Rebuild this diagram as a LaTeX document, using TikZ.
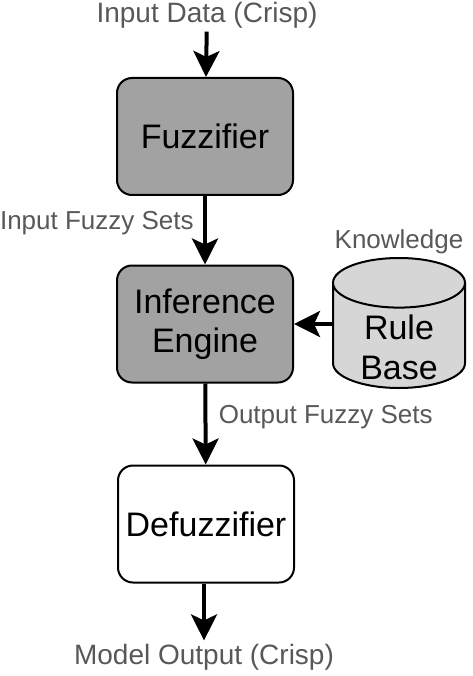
\documentclass[tikz,border=0pt]{standalone}
\usepackage{fontspec}
\setmainfont{Liberation Sans}
\usetikzlibrary{arrows.meta,shapes.geometric}

\definecolor{boxgray}{RGB}{162,162,162}
\definecolor{dbgray}{RGB}{214,214,214}
\definecolor{labelgray}{RGB}{88,88,88}

\tikzset{
	block/.style={draw, line width=2pt, rounded corners=15pt, minimum width=176pt, minimum height=117pt, align=center, inner sep=0pt, font=\fontsize{34}{39}\selectfont},
	datastore/.style={draw, line width=2pt, cylinder, shape border rotate=90, aspect=0.64, minimum width=132pt, minimum height=130pt, inner sep=0pt, fill=dbgray, text height=28pt, text depth=21pt, font=\fontsize{34}{40}\selectfont},
	tag/.style={text=labelgray, font=\fontsize{26}{30}\selectfont},
	bigtag/.style={tag, font=\fontsize{28}{30}\selectfont},
	flow/.style={line width=4pt, -{Stealth[length=26pt, width=26pt, inset=6pt]}}
}

\begin{document}
\begin{tikzpicture}[x=1pt, y=-1pt]

\def\width{472}
\def\height{676}

\path [use as bounding box] (0,0) rectangle (\width,\height);

% BLOCKS
\node [block, fill=boxgray] (fuzz) at (205,136.5) {Fuzzifier};
\node [block, fill=boxgray] (infer) at (205,324) {Inference\\Engine};
\node [block, fill=white] (defuzz) at (206,524) {Defuzzifier};
\node [datastore, anchor=shape center] (rules) at (399,323) {\begin{tabular}[t]{@{}c@{}}Rule\\Base\end{tabular}};

% LABELS
\node [bigtag] (crispin) at (207,15) {Input Data (Crisp)};
\node [tag] (know) at (399,242) {Knowledge};
\node [bigtag] (crispout) at (204,657) {Model Output (Crisp)};

% FLOW
\draw [flow] (crispin) -- (fuzz);
\draw [flow] (fuzz) -- node[tag, pos=0.4, left=6pt] (fsin) {Input Fuzzy Sets} (infer);
\draw [flow] (rules.west |- infer) -- (infer);
\draw [flow] (infer) -- node[tag, pos=0.42, right=8pt] (fsout) {Output Fuzzy Sets} (defuzz);
\draw [flow] (defuzz.south -| crispout) -- (crispout);

\end{tikzpicture}
\end{document}
